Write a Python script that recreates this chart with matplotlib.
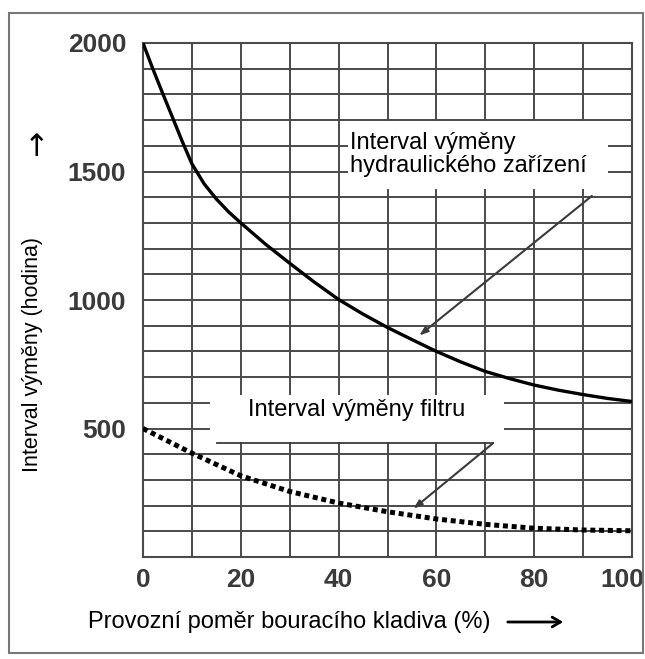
import matplotlib
matplotlib.use("Agg")
import matplotlib.pyplot as plt
import matplotlib.transforms as mtransforms
from matplotlib.patches import Rectangle

# solid curve: hydraulic equipment exchange interval (hours) vs hammer usage (%)
hyd_x = [0, 2, 4, 6, 8, 10, 12.5, 15, 17.5, 20, 25, 30, 35, 40, 45, 50, 55, 60, 65, 70, 75, 80, 85, 90, 95, 100]
hyd_y = [2000, 1900, 1805, 1712, 1618, 1530, 1452, 1393, 1343, 1300, 1218, 1143, 1070, 1002,
         945, 893, 846, 800, 759, 722, 694, 669, 649, 632, 617, 605]

# dotted curve: filter exchange interval
flt_x = [0, 5, 10, 20, 30, 40, 50, 60, 70, 80, 90, 100]
flt_y = [500, 452, 404, 316, 255, 210, 176, 148, 127, 112, 105, 102]

x_ticks = [0, 20, 40, 60, 80, 100]
y_ticks = [500, 1000, 1500, 2000]

lbl_hyd = "Interval výměny\nhydraulického zařízení"
lbl_flt = "Interval výměny filtru"
xlab = "Provozní poměr bouracího kladiva (%)"
ylab = "Interval výměny (hodina)"

plt.rcParams["font.family"] = ["Liberation Sans", "DejaVu Sans"]
GRID = "#4a4a4a"

fig = plt.figure(figsize=(6.45, 6.59), dpi=100)
ax = fig.add_axes([143 / 645, 1 - 557 / 659, 489 / 645, 514 / 659])

ax.set_xlim(0, 100)
ax.set_ylim(0, 2000)
ax.set_xticks(x_ticks)
ax.set_xticks(range(0, 101, 10), minor=True)
ax.set_yticks(y_ticks)
ax.set_yticks(range(0, 2001, 100), minor=True)
ax.grid(which="both", color=GRID, lw=1.4)
ax.set_axisbelow(True)
ax.tick_params(which="both", length=0)
ax.tick_params(axis="x", pad=8)
ax.tick_params(axis="y", pad=12)
for t in ax.get_xticklabels() + ax.get_yticklabels():
    t.set_fontsize(19); t.set_fontweight("bold"); t.set_color("#3a3a3a")
# last x label sits a bit left so it stays inside the picture
last = ax.get_xticklabels()[-1]
last.set_transform(last.get_transform() + mtransforms.ScaledTranslation(-10 / 100, 0, fig.dpi_scale_trans))
for s in ax.spines.values():
    s.set_color(GRID); s.set_linewidth(1.5)

# white label boxes covering the grid
ax.add_patch(Rectangle((41.9, 1430), 95 - 41.9, 1695 - 1430, fc="white", ec="none", zorder=1))
ax.add_patch(Rectangle((13.7, 448), 73.9 - 13.7, 629 - 448, fc="white", ec="none", zorder=1))

ax.plot(hyd_x, hyd_y, color="black", lw=2.4, zorder=3, solid_joinstyle="round")
ax.plot(flt_x, flt_y, color="black", lw=3.6, ls=(0, (1, 0.75)), dash_capstyle="butt", zorder=3)

ax.text(42.3, 1566, lbl_hyd, fontsize=17, ha="left", va="center", linespacing=1.1, zorder=4)
ax.text(43.6, 571, lbl_flt, fontsize=17, ha="center", va="center", zorder=4)

# pointer lines
arr = dict(arrowstyle="-|>,head_length=0.5,head_width=0.18", color="#3a3a3a", lw=1.5, shrinkA=0, shrinkB=0)
ax.annotate("", xy=(56.5, 862), xytext=(91.8, 1405), arrowprops=arr, zorder=4)
ax.plot([15.1, 71.6], [443, 443], color="#3a3a3a", lw=1.3, zorder=4)
ax.annotate("", xy=(55.3, 188), xytext=(71.6, 443), arrowprops=arr, zorder=4)

fig.text(33 / 645, 1 - 355 / 659, ylab, rotation=90, fontsize=15.5, ha="center", va="center")
fig.text(37 / 645, 1 - 148 / 659, "↑", fontsize=22, ha="center", va="center", family="DejaVu Sans")
fig.text(88 / 645, 1 - 622 / 659, xlab, fontsize=17, ha="left", va="center")
ax.annotate("", xy=(566 / 645, 1 - 622 / 659), xytext=(505 / 645, 1 - 622 / 659),
            xycoords="figure fraction", textcoords="figure fraction",
            arrowprops=dict(arrowstyle="->,head_length=0.6,head_width=0.35", color="black", lw=2))

fig.patches.append(Rectangle((9 / 645, 1 - 653 / 659), 634 / 645, 640 / 659, transform=fig.transFigure,
                             fill=False, ec="#777777", lw=1.5))

fig.savefig("out.png", dpi=100)
